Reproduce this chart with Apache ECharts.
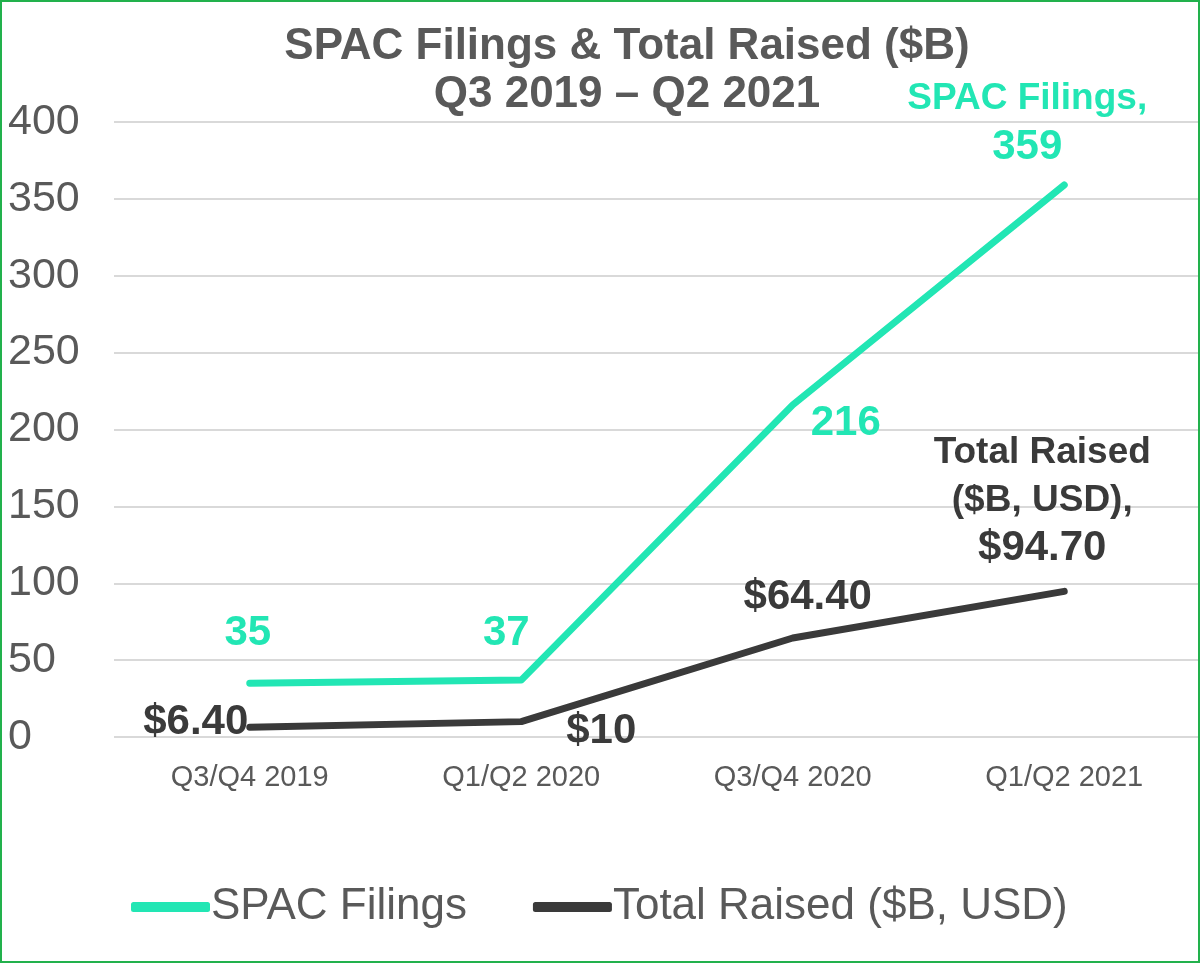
<!DOCTYPE html>
<html><head><meta charset="utf-8">
<script src="https://cdn.jsdelivr.net/npm/echarts@6/dist/echarts.min.js"></script>
<style>
html,body{margin:0;padding:0;background:#fff;}
#frame{position:absolute;left:0;top:0;width:1196px;height:959px;border:2px solid #22B14C;}
#chart{position:absolute;left:0;top:0;width:1200px;height:963px;}
</style></head>
<body>
<div id="chart"></div>
<div id="frame"></div>
<script>
const categories = ['Q3/Q4 2019', 'Q1/Q2 2020', 'Q3/Q4 2020', 'Q1/Q2 2021'];
const spacFilings = [35, 37, 216, 359];
const totalRaised = [6.4, 10, 64.4, 94.7];
const spacLabels = ['35', '37', '216', '{s|SPAC Filings,}\n{b|359}'];
const raisedLabels = ['$6.40', '$10', '$64.40', '{s|Total Raised}\n{s|($B, USD),}\n{b|$94.70}'];
const yTicks = [0, 50, 100, 150, 200, 250, 300, 350, 400];

const TEAL = '#22E6B4';
const DARK = '#3A3A3A';
const GREY = '#595959';
const FONT = '"Liberation Sans", Arial, sans-serif';

const spacOffsets = [[-2, -50], [-15, -47], [53, 19], [-37, -62]];
const raisedOffsets = [[-54, -5], [80, 10], [15, -41], [-22, -91]];

function makeData(values, labels, offsets, color) {
  return values.map((v, i) => ({
    value: v,
    label: {
      show: true,
      position: 'inside',
      offset: offsets[i],
      formatter: labels[i],
      color: color,
      fontWeight: 'bold',
      fontFamily: FONT,
      fontSize: 42,
      align: 'center',
      lineHeight: 48,
      rich: {
        s: { fontSize: 37, fontWeight: 'bold', color: color, fontFamily: FONT, lineHeight: 48 },
        b: { fontSize: 42, fontWeight: 'bold', color: color, fontFamily: FONT, lineHeight: 48 }
      }
    }
  }));
}

const chart = echarts.init(document.getElementById('chart'), null, { renderer: 'canvas' });
chart.setOption({
  backgroundColor: '#fff',
  animation: false,
  title: {
    text: 'SPAC Filings & Total Raised ($B)\nQ3 2019 – Q2 2021',
    left: 622,
    textAlign: 'center',
    top: 18,
    textStyle: { color: GREY, fontSize: 44, fontWeight: 'bold', fontFamily: FONT, lineHeight: 48 }
  },
  legend: {
    left: 126,
    top: 880,
    icon: 'roundRect',
    itemWidth: 79,
    itemHeight: 10,
    itemGap: 66,
    textStyle: { color: GREY, fontSize: 44, fontFamily: FONT, padding: [0, 0, 0, -4] },
    data: ['SPAC Filings', 'Total Raised ($B, USD)']
  },
  grid: { left: 114, right: -1, top: 122, bottom: 963 - 737, containLabel: false },
  xAxis: {
    type: 'category',
    data: categories,
    boundaryGap: true,
    axisLine: { show: false },
    axisTick: { show: false },
    axisLabel: { color: GREY, fontSize: 29, fontFamily: FONT, margin: 26 }
  },
  yAxis: {
    type: 'value',
    min: yTicks[0],
    max: yTicks[yTicks.length - 1],
    interval: 50,
    axisLine: { show: false },
    axisTick: { show: false },
    splitLine: { lineStyle: { color: '#D9D9D9', width: 2 } },
    axisLabel: { color: GREY, fontSize: 43, fontFamily: FONT, align: 'left', margin: 106 }
  },
  series: [
    {
      name: 'SPAC Filings',
      type: 'line',
      data: makeData(spacFilings, spacLabels, spacOffsets, TEAL),
      symbol: 'circle',
      symbolSize: 1,
      itemStyle: { color: TEAL },
      lineStyle: { color: TEAL, width: 7, cap: 'round', join: 'round' }
    },
    {
      name: 'Total Raised ($B, USD)',
      type: 'line',
      data: makeData(totalRaised, raisedLabels, raisedOffsets, DARK),
      symbol: 'circle',
      symbolSize: 1,
      itemStyle: { color: DARK },
      lineStyle: { color: DARK, width: 7, cap: 'round', join: 'round' }
    }
  ]
});
</script>
</body></html>
